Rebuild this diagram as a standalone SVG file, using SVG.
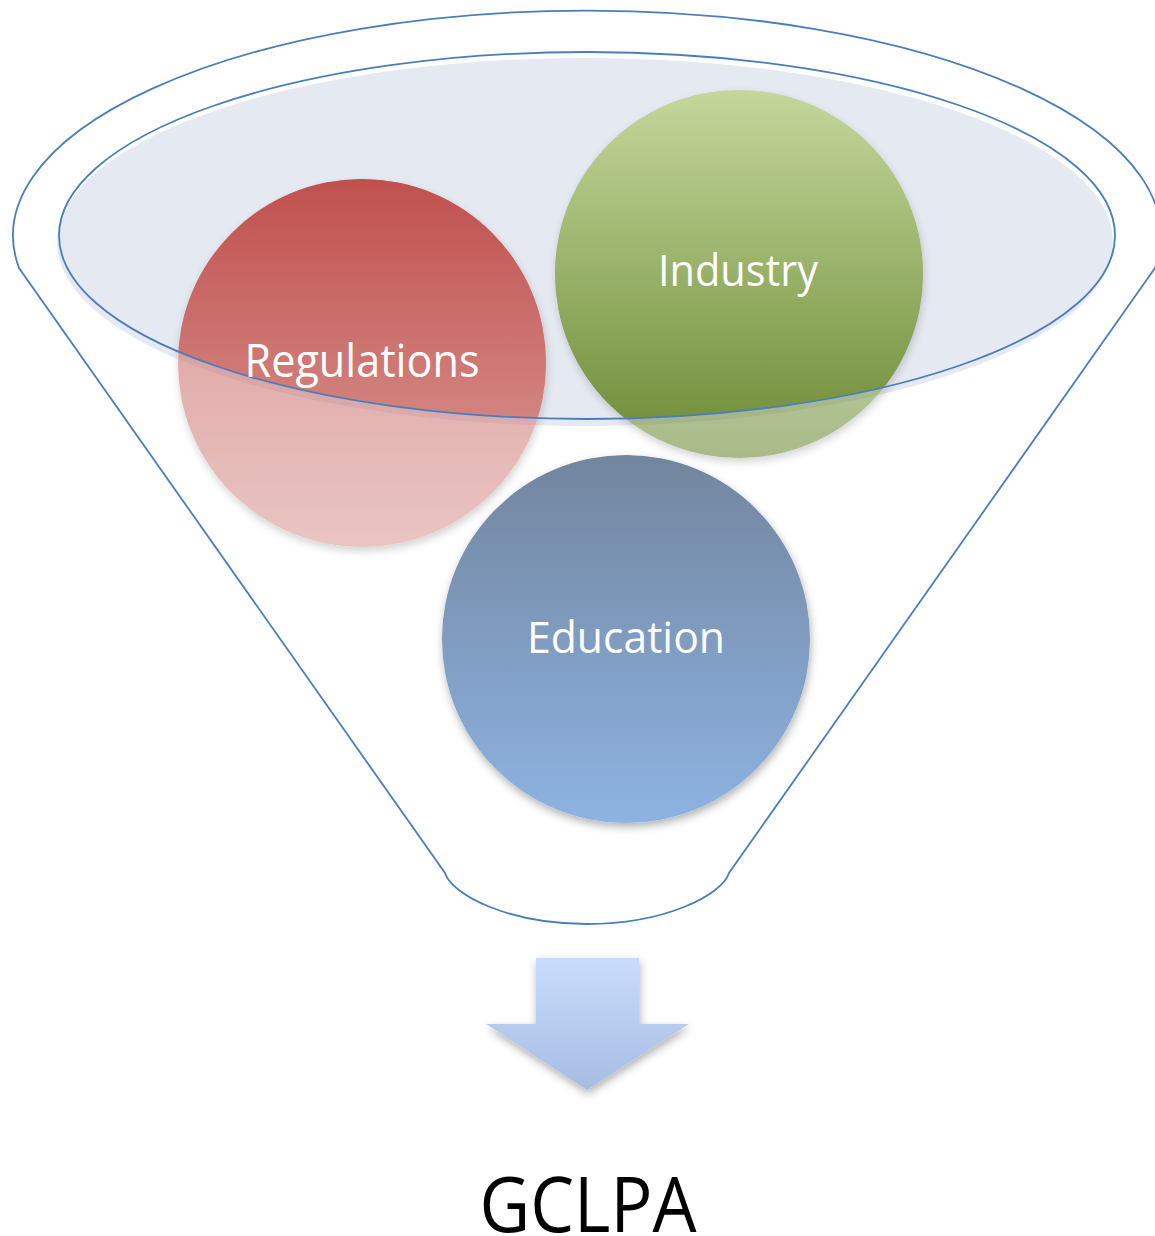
<svg xmlns="http://www.w3.org/2000/svg" width="1155" height="1236" viewBox="0 0 1155 1236">
<style>
.lbl{font-family:"Open Sans","Noto Sans","Liberation Sans",sans-serif;fill:#ffffff;text-anchor:middle}
.line{fill:none;stroke:#4a7ebb;stroke-width:1.8}
</style>
<defs>
<linearGradient id="gReg" x1="0" y1="0" x2="0" y2="1">
<stop offset="0" stop-color="#c0504d"/><stop offset="1" stop-color="#dc9f9b"/>
</linearGradient>
<linearGradient id="gInd" x1="0" y1="0" x2="0" y2="1">
<stop offset="0" stop-color="#c4d79c"/><stop offset="1" stop-color="#6c8a34"/>
</linearGradient>
<linearGradient id="gEdu" x1="0" y1="0" x2="0" y2="1">
<stop offset="0" stop-color="#72859e"/><stop offset="1" stop-color="#8db3e2"/>
</linearGradient>
<linearGradient id="gArr" x1="0" y1="0" x2="0" y2="1">
<stop offset="0" stop-color="#c9dcfd"/><stop offset="1" stop-color="#a6bce2"/>
</linearGradient>
<clipPath id="inEl"><ellipse cx="587" cy="235.5" rx="528" ry="183.5"/></clipPath>
<filter id="sh" x="-20%" y="-20%" width="140%" height="140%">
<feDropShadow dx="1" dy="4" stdDeviation="4" flood-color="#000" flood-opacity="0.3"/>
</filter>
</defs>
<rect width="1155" height="1236" fill="#ffffff"/>
<g id="funnel-back">
<ellipse cx="585" cy="242" rx="528" ry="184" fill="#e5e9f2"/>
</g>
<g id="node-regulations">
<circle cx="362" cy="363" r="184" fill="url(#gReg)" opacity="0.6" filter="url(#sh)"/>
<circle cx="362" cy="363" r="184" fill="url(#gReg)" clip-path="url(#inEl)"/>
</g>
<g id="node-industry">
<circle cx="739" cy="274" r="184" fill="url(#gInd)" opacity="0.58" filter="url(#sh)"/>
<circle cx="739" cy="274" r="184" fill="url(#gInd)" clip-path="url(#inEl)"/>
</g>
<g id="node-education">
<circle cx="626" cy="639" r="184" fill="url(#gEdu)" filter="url(#sh)"/>
</g>
<g id="funnel-front">
<ellipse class="line" cx="587" cy="235.5" rx="528" ry="183.5"/>
<path class="line" d="M 19 268 A 574 225 0 1 1 1155 268 L 729 873 C 722 895 665 924 587 924 C 509 924 452 895 445 873 Z"/>
</g>
<g id="labels">
<text class="lbl" x="362" y="377" font-size="45" textLength="235" lengthAdjust="spacingAndGlyphs">Regulations</text>
<text class="lbl" x="738" y="286" font-size="44" textLength="160" lengthAdjust="spacingAndGlyphs">Industry</text>
<text class="lbl" x="626" y="653" font-size="44" textLength="198" lengthAdjust="spacingAndGlyphs">Education</text>
</g>
<g id="connectors">
<polygon points="536,958 639,958 639,1024 689,1024 587,1090 486,1024 536,1024" fill="url(#gArr)" filter="url(#sh)"/>
</g>
<g id="node-gclpa">
<text x="588" y="1232" font-family="'Open Sans','Noto Sans','Liberation Sans',sans-serif" font-size="76" fill="#000000" text-anchor="middle" textLength="217" lengthAdjust="spacingAndGlyphs">GCLPA</text>
</g>
</svg>
